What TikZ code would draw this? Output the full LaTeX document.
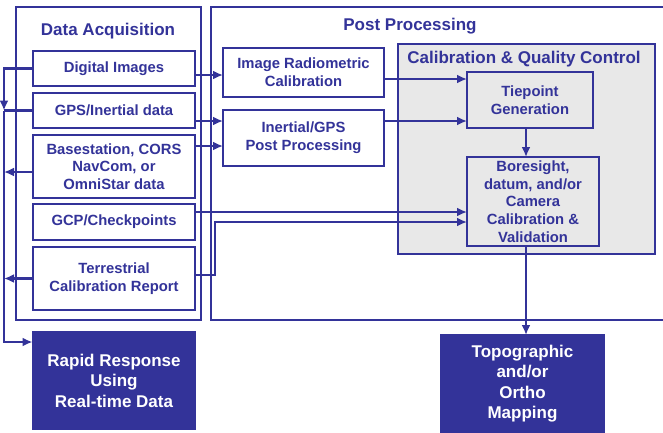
\documentclass[tikz,border=0pt]{standalone}
\usepackage{fontspec}
\setmainfont{Liberation Sans}
\usetikzlibrary{positioning,arrows.meta}
\definecolor{navy}{RGB}{51,51,153}
\definecolor{qcgray}{RGB}{232,232,232}

\begin{document}
\begin{tikzpicture}[
    x=1pt, y=-1pt,
    font=\bfseries\fontsize{14.8}{17.7}\selectfont,
    box/.style={
        draw=navy,
        line width=1.8pt,
        fill=white,
        text=navy,
        inner sep=1pt,
        outer sep=0pt,
        minimum width=162pt,
        align=center
    },
    result/.style={box, fill=navy, text=white, minimum width=163pt,
        minimum height=97pt, font=\bfseries\fontsize{17}{20.5}\selectfont},
    frame/.style={draw=navy, line width=1.8pt, inner sep=0pt, outer sep=0pt},
    heading/.style={text=navy, font=\bfseries\fontsize{17}{20}\selectfont},
    arrow/.style={-{Latex[length=10pt,width=9pt]}, draw=navy, line width=2.4pt},
    wire/.style={draw=navy, line width=2.4pt}
]
\useasboundingbox (0,0) rectangle (663,432);

% ============================================================
% FRAMES
% ============================================================
\node[frame, minimum width=185pt, minimum height=313pt] (acq) at (108.5,163.5) {};
\node[heading] (acqtitle) at (108,31) {Data Acquisition};

\draw[frame] (663,7) -| (211,320) -- (663,320);
\node[heading] (posttitle) at (410,26) {Post Processing};

\node[frame, fill=qcgray, minimum width=257pt, minimum height=210pt] (cqc) at (526.5,149) {};
\node[heading] (cqctitle) at (524,59) {Calibration \& Quality Control};

% ============================================================
% DATA ACQUISITION
% ============================================================
\node[box, minimum height=35pt] (dig) at (114,68.5) {Digital Images};
\node[box, minimum height=35pt, below=7pt of dig] (gps) {GPS/Inertial data};
\node[box, minimum height=63pt, below=7pt of gps] (base) {Basestation, CORS\\NavCom, or\\OmniStar data};
\node[box, minimum height=36pt, below=6pt of base] (gcp) {GCP/Checkpoints};
\node[box, minimum height=63pt, below=7pt of gcp] (terr) {Terrestrial\\Calibration Report};
\node[result, below=22pt of terr] (rapid) {Rapid Response\\Using\\Real-time Data};

% ============================================================
% POST PROCESSING
% ============================================================
\node[box, minimum width=161pt, minimum height=49pt] (rad) at (303.5,72.5) {Image Radiometric\\Calibration};
\node[box, minimum width=161pt, minimum height=56pt, below=13pt of rad] (ingps) {Inertial/GPS\\Post Processing};
\node[box, fill=qcgray, minimum width=126pt, minimum height=56pt] (tie) at (530,100) {Tiepoint\\Generation};
\node[box, fill=qcgray, minimum width=132pt, minimum height=89pt] (bore) at (533,201.5)
    {Boresight,\\datum, and/or\\Camera\\Calibration \&\\Validation};
\node[result] (topo) at (522.5,383.5) {Topographic\\and/or\\Ortho\\Mapping};

\coordinate (bus) at (4,0);
\coordinate (jog) at (215,0);
\coordinate (drop) at (526,0);

% inputs to processing
\coordinate (digout) at ([yshift=-6.5pt]dig.east);
\coordinate (gpsout) at ([yshift=-10.5pt]gps.east);
\coordinate (baseright) at ([yshift=20.5pt]base.east);
\coordinate (radout) at ([yshift=-6.5pt]rad.east);
\coordinate (ingpsout) at ([yshift=17pt]ingps.east);
\coordinate (gcpout) at ([yshift=10pt]gcp.east);
\coordinate (terrout) at ([yshift=3.5pt]terr.east);
\coordinate (borein) at ([yshift=-20.5pt]bore.west);

\draw[arrow] (digout) -- (digout -| rad.west);
\draw[arrow] (gpsout) -- (gpsout -| ingps.west);
\draw[arrow] (baseright) -- (baseright -| ingps.west);
\draw[arrow] (radout) -- (radout -| tie.west);
\draw[arrow] (ingpsout) -- (ingpsout -| tie.west);
\draw[arrow] (gcpout) -- (gcpout -| bore.west);
\draw[arrow] (terrout) -| (jog |- borein) -- (borein);
\draw[arrow] (tie.south -| drop) -- (bore.north -| drop);
\draw[arrow] (bore.south -| drop) -- (topo.north -| drop);

% real-time path
\coordinate (baseout) at ([yshift=-5.5pt]base.west);
\draw[arrow] (dig.west) -| (bus |- gps.west);
\draw[wire] (gps.west) -- (bus |- gps.west);
\draw[arrow] (baseout) -- (bus |- baseout);
\draw[arrow] (terr.west) -- (bus |- terr.west);
\draw[arrow] (bus |- gps.west) |- ([yshift=-10pt]rapid.north west);

\end{tikzpicture}
\end{document}
